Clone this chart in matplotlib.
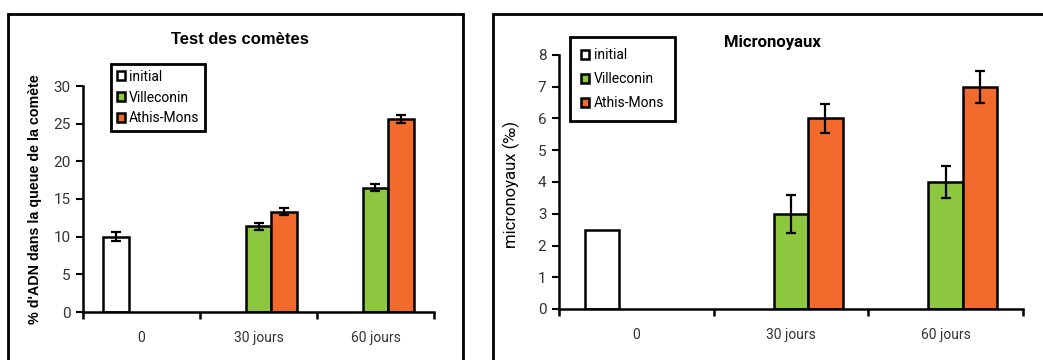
import numpy as np
import matplotlib
matplotlib.use("Agg")
import matplotlib.pyplot as plt
from matplotlib.patches import Rectangle, Patch

plt.rcParams["font.family"] = ["Roboto", "DejaVu Sans"]

CATEGORIES = ["0", "30 jours", "60 jours"]
SERIES = ["initial", "Villeconin", "Athis-Mons"]
COLORS = ["#ffffff", "#8dc63f", "#f26b2c"]

# Test des comètes (% ADN dans la queue)
COMET_VALUES = {
    "initial": [10.0, np.nan, np.nan],
    "Villeconin": [np.nan, 11.4, 16.5],
    "Athis-Mons": [np.nan, 13.3, 25.6],
}
COMET_ERR = {
    "initial": [0.6, 0, 0],
    "Villeconin": [0, 0.45, 0.45],
    "Athis-Mons": [0, 0.45, 0.5],
}

# Micronoyaux (‰)
MICRO_VALUES = {
    "initial": [2.5, np.nan, np.nan],
    "Villeconin": [np.nan, 3.0, 4.0],
    "Athis-Mons": [np.nan, 6.0, 7.0],
}
MICRO_ERR = {
    "initial": [0, 0, 0],
    "Villeconin": [0, 0.6, 0.5],
    "Athis-Mons": [0, 0.45, 0.5],
}

BAR_W = 0.222
W, H = 1043, 360

fig = plt.figure(figsize=(W / 100, H / 100), dpi=100)

# outer chart frames
fig.patches.append(Rectangle((8 / W, -0.1), 455 / W, 1.1 - 14 / H,
                             transform=fig.transFigure, fill=False,
                             edgecolor="black", linewidth=2))
fig.patches.append(Rectangle((493 / W, -0.1), 0.6, 1.1 - 14 / H,
                             transform=fig.transFigure, fill=False,
                             edgecolor="black", linewidth=2))


def draw_panel(ax, values, errs, ymax, ystep):
    x = np.arange(len(CATEGORIES))
    for i, (name, color) in enumerate(zip(SERIES, COLORS)):
        vals = np.array(values[name], dtype=float)
        err = np.array(errs[name], dtype=float)
        pos = x + (i - 1) * BAR_W
        ax.bar(pos, vals, width=BAR_W, color=color, edgecolor="black",
               linewidth=1.8, zorder=2)
        show = ~np.isnan(vals) & (err > 0)
        if show.any():
            ax.errorbar(pos[show], vals[show], yerr=err[show], fmt="none",
                        ecolor="black", elinewidth=1.6, capsize=3.5,
                        capthick=1.6, zorder=3)
    ax.set_xlim(-0.5, len(CATEGORIES) - 0.5)
    ax.set_ylim(0, ymax)
    ax.set_yticks(np.arange(0, ymax + 0.01, ystep))
    ax.set_xticks(np.arange(len(CATEGORIES) + 1) - 0.5)
    ax.set_xticklabels([])
    ax.set_xticks(x, minor=True)
    ax.set_xticklabels(CATEGORIES, minor=True)
    ax.tick_params(axis="x", which="major", length=5, width=1.8,
                   direction="out")
    ax.tick_params(axis="x", which="minor", length=0, pad=14,
                   labelsize=10, labelcolor="#333333")
    ax.tick_params(axis="y", length=5, width=1.5, labelsize=11,
                   labelcolor="#333333", pad=4)
    for s in ["top", "right"]:
        ax.spines[s].set_visible(False)
    for s in ["left", "bottom"]:
        ax.spines[s].set_linewidth(1.8)


handles = [Patch(facecolor=c, edgecolor="black", linewidth=1.8) for c in COLORS]

ax1 = fig.add_axes([83 / W, 1 - 312 / H, 351 / W, 226 / H])
draw_panel(ax1, COMET_VALUES, COMET_ERR, 30, 5)
ax1.set_ylabel("% d'ADN dans la queue de la comète", fontsize=10.3,
               fontweight="bold", family=["Liberation Sans", "DejaVu Sans"])
ax1.yaxis.set_label_coords(-0.117, 0.5)
fig.text(240 / W, 1 - 40 / H, "Test des comètes", ha="center", va="center",
         fontsize=12, fontweight="bold",
         family=["Liberation Sans", "DejaVu Sans"])
leg1 = ax1.legend(handles, SERIES, loc="upper left",
                  bbox_to_anchor=(111 / W, 1 - 64 / H),
                  bbox_transform=fig.transFigure, borderaxespad=0,
                  fontsize=10, handlelength=0.6, handleheight=0.6,
                  handletextpad=0.3, labelspacing=0.5, borderpad=0.4,
                  fancybox=False, framealpha=1, edgecolor="black")
leg1.get_frame().set_linewidth(2)

ax2 = fig.add_axes([559 / W, 1 - 309 / H, 464 / W, 254 / H])
draw_panel(ax2, MICRO_VALUES, MICRO_ERR, 8, 1)
ax2.set_ylabel("micronoyaux (‰)", fontsize=12)
ax2.yaxis.set_label_coords(-0.084, 0.49)
fig.text(772 / W, 1 - 42 / H, "Micronoyaux", ha="center", va="center",
         fontsize=12, fontweight="bold")
leg2 = ax2.legend(handles, SERIES, loc="upper left",
                  bbox_to_anchor=(570 / W, 1 - 37 / H),
                  bbox_transform=fig.transFigure, borderaxespad=0,
                  fontsize=10, handlelength=0.6, handleheight=0.6,
                  handletextpad=0.3, labelspacing=0.72, borderpad=0.8,
                  fancybox=False, framealpha=1, edgecolor="black")
leg2.get_frame().set_linewidth(2)

fig.savefig("out.png", dpi=100)
